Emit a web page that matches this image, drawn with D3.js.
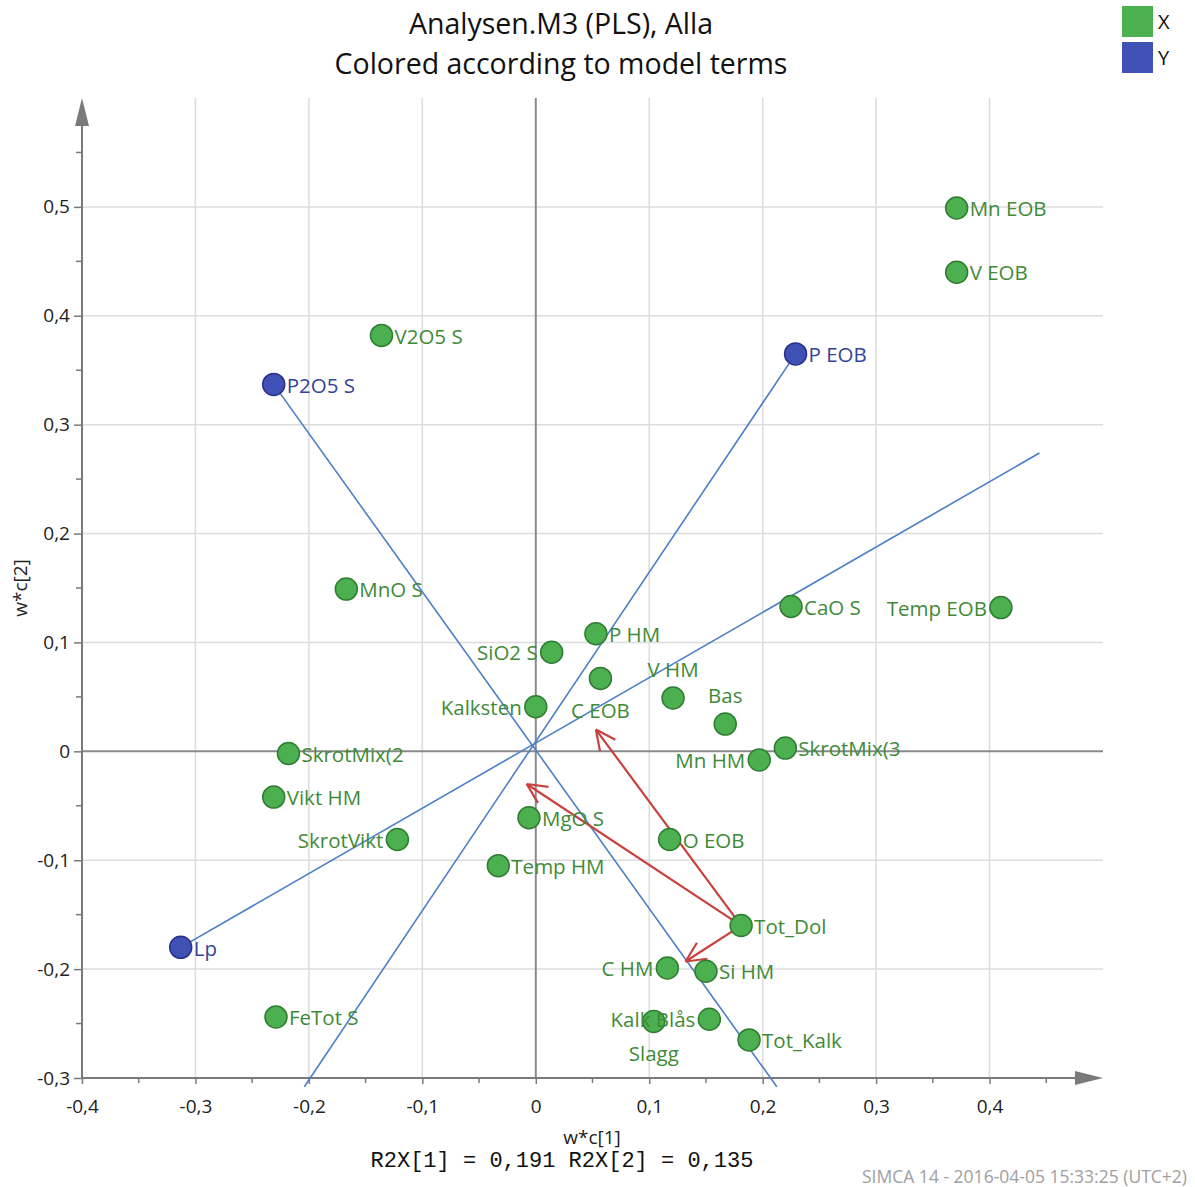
<!DOCTYPE html>
<html>
<head>
<meta charset="utf-8">
<script src="https://cdn.jsdelivr.net/npm/d3@7"></script>
<style>
  body { margin: 0; background: #fff; }
  text { font-family: "Open Sans", "Noto Sans", sans-serif; }
</style>
</head>
<body>
<div id="chart"></div>
<script>
// variable names, loadings w*c[1], w*c[2] and block (X or Y)
var names = ["Mn EOB", "V EOB", "P EOB", "V2O5 S", "P2O5 S", "MnO S", "CaO S", "Temp EOB",
             "P HM", "SiO2 S", "C EOB", "V HM", "Bas", "Kalksten", "SkrotMix(2", "SkrotMix(3",
             "Mn HM", "Vikt HM", "SkrotVikt", "MgO S", "O EOB", "Temp HM", "Tot_Dol", "Lp",
             "C HM", "Si HM", "FeTot S", "Slagg", "Kalk Blås", "Tot_Kalk"];
var wc1 = [0.371, 0.371, 0.229, -0.136, -0.231, -0.167, 0.225, 0.410,
           0.053, 0.014, 0.057, 0.121, 0.167, 0.000, -0.218, 0.220,
           0.197, -0.231, -0.122, -0.006, 0.118, -0.033, 0.181, -0.313,
           0.116, 0.150, -0.229, 0.104, 0.153, 0.188];
var wc2 = [0.499, 0.440, 0.365, 0.382, 0.337, 0.149, 0.133, 0.132,
           0.108, 0.091, 0.067, 0.049, 0.025, 0.041, -0.002, 0.003,
           -0.008, -0.042, -0.081, -0.061, -0.081, -0.105, -0.160, -0.180,
           -0.199, -0.202, -0.244, -0.248, -0.246, -0.265];
var block = ["X", "X", "Y", "X", "Y", "X", "X", "X",
             "X", "X", "X", "X", "X", "X", "X", "X",
             "X", "X", "X", "X", "X", "X", "X", "Y",
             "X", "X", "X", "X", "X", "X"];

// blue reference lines (start, end)
var refLines = [
  [[-0.231, 0.337], [0.2125, -0.308]],
  [[0.229, 0.365], [-0.204, -0.308]],
  [[-0.313, -0.180], [0.444, 0.274]]
];
// red arrows (from, to)
var arrows = [
  [[0.181, -0.160], [0.053, 0.020]],
  [[0.181, -0.160], [-0.008, -0.030]],
  [[0.181, -0.160], [0.132, -0.193]]
];

var xTicks = [-0.4, -0.3, -0.2, -0.1, 0, 0.1, 0.2, 0.3, 0.4];
var yTicks = [-0.3, -0.2, -0.1, 0, 0.1, 0.2, 0.3, 0.4, 0.5];
var legendKeys = ["X", "Y"];

// label placement for crowded points
var labelPlace = {
  "Temp EOB": "left", "SiO2 S": "left", "Kalksten": "left", "Mn HM": "left",
  "SkrotVikt": "left", "C HM": "left", "Kalk Blås": "left",
  "C EOB": "below", "Slagg": "below", "V HM": "above", "Bas": "above"
};

var width = 1195, height = 1187;
var fillCol = { X: "#4caf50", Y: "#3f51b5" },
    strokeCol = { X: "#2f7d32", Y: "#28328a" },
    textCol = { X: "#3f8a38", Y: "#34449a" };

var x = d3.scaleLinear().domain([-0.4, 0.5]).range([82, 1103]),
    y = d3.scaleLinear().domain([-0.3, 0.6]).range([1078, 98]);

// Swedish style number: comma decimal, plain hyphen minus
var fmt = function (d) {
  return Math.abs(d) < 1e-9 ? "0" : d3.format(".1f")(d).replace(".", ",").replace("\u2212", "-");
};

var svg = d3.select("#chart").append("svg")
    .attr("width", width)
    .attr("height", height);

// grid
svg.append("g").selectAll("line").data(xTicks.filter(function (d) { return d !== 0 && d !== -0.4; }))
  .enter().append("line")
  .attr("x1", function (d) { return x(d); }).attr("x2", function (d) { return x(d); })
  .attr("y1", y(0.6)).attr("y2", y(-0.3))
  .style("stroke", "#dcdcdc").style("stroke-width", 1.5);
svg.append("g").selectAll("line").data(yTicks.filter(function (d) { return d !== 0 && d !== -0.3; }))
  .enter().append("line")
  .attr("x1", x(-0.4)).attr("x2", x(0.5))
  .attr("y1", function (d) { return y(d); }).attr("y2", function (d) { return y(d); })
  .style("stroke", "#dcdcdc").style("stroke-width", 1.5);

// zero lines
svg.append("line").attr("x1", x(0)).attr("x2", x(0)).attr("y1", y(0.6)).attr("y2", y(-0.3))
  .style("stroke", "#8a8a8a").style("stroke-width", 2);
svg.append("line").attr("x1", x(-0.4)).attr("x2", x(0.5)).attr("y1", y(0)).attr("y2", y(0))
  .style("stroke", "#8a8a8a").style("stroke-width", 2);

// axes
var axisCol = "#7a7a7a";
var gx = svg.append("g").attr("transform", "translate(0," + y(-0.3) + ")")
  .call(d3.axisBottom(x).tickValues(xTicks).tickSize(6).tickFormat(fmt));
gx.select(".domain").remove();
var gy = svg.append("g").attr("transform", "translate(" + x(-0.4) + ",0)")
  .call(d3.axisLeft(y).tickValues(yTicks).tickSize(8).tickFormat(fmt));
gy.select(".domain").remove();
gx.selectAll("text").attr("y", 22).attr("dy", "0.71em");
gy.selectAll("text").attr("x", -12);
[gx, gy].forEach(function (g) {
  g.selectAll("line").style("stroke", axisCol).style("stroke-width", 1.5);
  g.selectAll("text").style("font-family", "'Open Sans', sans-serif").style("font-size", "19px").style("fill", "#222");
});

// minor ticks
var xMinor = d3.range(-0.35, 0.5, 0.1), yMinor = d3.range(-0.25, 0.6, 0.1);
svg.append("g").selectAll("line").data(xMinor).enter().append("line")
  .attr("x1", function (d) { return x(d); }).attr("x2", function (d) { return x(d); })
  .attr("y1", y(-0.3)).attr("y2", y(-0.3) + 5)
  .style("stroke", axisCol).style("stroke-width", 1.5);
svg.append("g").selectAll("line").data(yMinor).enter().append("line")
  .attr("x1", x(-0.4) - 6).attr("x2", x(-0.4))
  .attr("y1", function (d) { return y(d); }).attr("y2", function (d) { return y(d); })
  .style("stroke", axisCol).style("stroke-width", 1.5);

// axis lines with arrowheads
svg.append("line").attr("x1", x(-0.4)).attr("x2", x(0.5) - 20).attr("y1", y(-0.3)).attr("y2", y(-0.3))
  .style("stroke", axisCol).style("stroke-width", 2);
svg.append("line").attr("x1", x(-0.4)).attr("x2", x(-0.4)).attr("y1", y(-0.3)).attr("y2", y(0.6) + 20)
  .style("stroke", axisCol).style("stroke-width", 2);
svg.append("path")
  .attr("d", "M" + x(0.5) + "," + y(-0.3) + " l-28,-7 l0,14 z")
  .style("fill", axisCol);
svg.append("path")
  .attr("d", "M" + x(-0.4) + "," + y(0.6) + " l-7,28 l14,0 z")
  .style("fill", axisCol);

// blue lines
svg.append("g").selectAll("line").data(refLines).enter().append("line")
  .attr("x1", function (d) { return x(d[0][0]); }).attr("y1", function (d) { return y(d[0][1]); })
  .attr("x2", function (d) { return x(d[1][0]); }).attr("y2", function (d) { return y(d[1][1]); })
  .style("stroke", "#4a7fc8").style("stroke-width", 1.6);

// red arrows
var arrowG = svg.append("g");
arrows.forEach(function (a) {
  var x0 = x(a[0][0]), y0 = y(a[0][1]), x1 = x(a[1][0]), y1 = y(a[1][1]);
  var ang = Math.atan2(y1 - y0, x1 - x0), len = 22, spread = 0.45;
  arrowG.append("line").attr("x1", x0).attr("y1", y0).attr("x2", x1).attr("y2", y1)
    .style("stroke", "#c9413c").style("stroke-width", 2.2);
  [-spread, spread].forEach(function (s) {
    arrowG.append("line").attr("x1", x1).attr("y1", y1)
      .attr("x2", x1 - len * Math.cos(ang + s)).attr("y2", y1 - len * Math.sin(ang + s))
      .style("stroke", "#c9413c").style("stroke-width", 2.2);
  });
});

// points
var pts = names.map(function (n, i) { return { name: n, x: wc1[i], y: wc2[i], b: block[i] }; });
svg.append("g").selectAll("circle").data(pts).enter().append("circle")
  .attr("cx", function (d) { return x(d.x); })
  .attr("cy", function (d) { return y(d.y); })
  .attr("r", 11)
  .style("fill", function (d) { return fillCol[d.b]; })
  .style("stroke", function (d) { return strokeCol[d.b]; })
  .style("stroke-width", 1.5);

// labels
svg.append("g").selectAll("text").data(pts).enter().append("text")
  .attr("x", function (d) {
    var p = labelPlace[d.name];
    if (p === "left") return x(d.x) - 14;
    if (p === "below" || p === "above") return x(d.x);
    return x(d.x) + 13;
  })
  .attr("y", function (d) {
    var p = labelPlace[d.name];
    if (p === "below") return y(d.y) + 32;
    if (p === "above") return y(d.y) - 28;
    return y(d.y) + 1;
  })
  .attr("dy", "0.35em")
  .attr("text-anchor", function (d) {
    var p = labelPlace[d.name];
    if (p === "left") return "end";
    if (p === "below" || p === "above") return "middle";
    return "start";
  })
  .style("font-size", "20.5px")
  .style("fill", function (d) { return textCol[d.b]; })
  .text(function (d) { return d.name; });

// title
svg.append("text").attr("x", 561).attr("y", 34).attr("text-anchor", "middle")
  .style("font-size", "28.5px").style("fill", "#111").text("Analysen.M3 (PLS), Alla");
svg.append("text").attr("x", 561).attr("y", 74).attr("text-anchor", "middle")
  .style("font-size", "28.5px").style("fill", "#111").text("Colored according to model terms");

// legend
var lg = svg.append("g").selectAll("g").data(legendKeys).enter().append("g")
  .attr("transform", function (d, i) { return "translate(1122," + (6 + i * 36) + ")"; });
lg.append("rect").attr("width", 31).attr("height", 31)
  .style("fill", function (d) { return fillCol[d]; });
lg.append("text").attr("x", 36).attr("y", 16).attr("dy", "0.35em")
  .style("font-size", "20px").style("fill", "#111").text(function (d) { return d; });

// axis titles
svg.append("text").attr("x", 592).attr("y", 1144).attr("text-anchor", "middle")
  .style("font-size", "19px").style("fill", "#222").text("w*c[1]");
svg.append("text").attr("transform", "translate(27,588) rotate(-90)").attr("text-anchor", "middle")
  .style("font-size", "19px").style("fill", "#222").text("w*c[2]");
svg.append("text").attr("x", 562).attr("y", 1167).attr("text-anchor", "middle")
  .style("font-family", "'Liberation Mono', monospace").style("font-size", "22px").style("fill", "#111")
  .text("R2X[1] = 0,191 R2X[2] = 0,135");
svg.append("text").attr("x", 1187).attr("y", 1183).attr("text-anchor", "end")
  .style("font-size", "17.5px").style("fill", "#a0a0a0")
  .text("SIMCA 14 - 2016-04-05 15:33:25 (UTC+2)");
</script>
</body>
</html>
